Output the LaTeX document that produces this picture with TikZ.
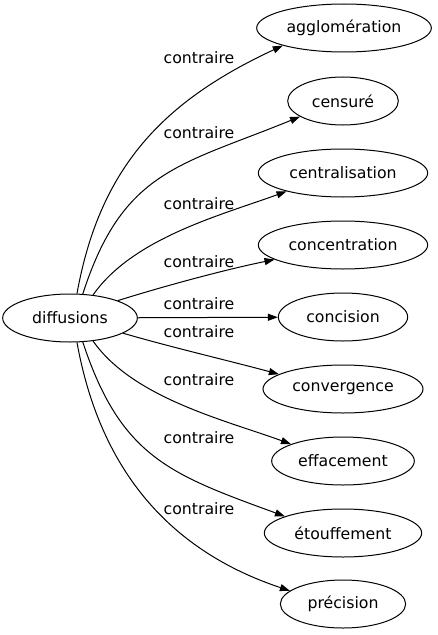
\documentclass[tikz,border=0pt]{standalone}
\usepackage{fontspec}
\setmainfont{DejaVu Sans}
\usetikzlibrary{arrows.meta,shapes.geometric}

\begin{document}
\begin{tikzpicture}[x=0.75pt,y=-0.75pt,
  word/.style={ellipse,draw,line width=0.75pt,inner xsep=0pt,inner ysep=2pt,
    minimum height=36pt,minimum width=#1,font=\fontsize{11.8}{14}\selectfont},
  rel/.style={-{Triangle[length=7.5pt,width=5.3pt]},line width=0.75pt},
  lab/.style={font=\fontsize{11.8}{14}\selectfont,inner sep=0pt}]
\useasboundingbox (0,0) rectangle (437,635);
\node[word=101pt] (diff) at (70,318) {diffusions};
\node[word=131pt] (aggl) at (344,28)  {agglomération};
\node[word=83pt]  (cens) at (343,101) {censuré};
\node[word=127pt] (cent) at (343,173) {centralisation};
\node[word=127pt] (conc) at (343,245) {concentration};
\node[word=97pt]  (cisi) at (343,317) {concision};
\node[word=120pt] (conv) at (343,389) {convergence};
\node[word=107pt] (effa) at (343,461) {effacement};
\node[word=118pt] (etou) at (343,533) {étouffement};
\node[word=94pt]  (prec) at (343,604) {précision};
% upper arcs
\draw[rel] (diff.74) .. controls +(23,-128) and +(-118,55) .. (aggl.196);
\draw[rel] (diff.62) .. controls +(40,-124) and +(-120,49) .. (cens.200);
\draw[rel] (diff.45) .. controls +(40,-57) and +(-66,24) .. (cent.198);
\draw[rel] (diff.20) .. controls +(48,-15) and +(-49,10) .. (conc.192);
\draw[rel] (diff) -- (cisi);
% lower arcs
\draw[rel] (diff.-16) .. controls +(48,14) and +(-48,-13) .. (conv.167);
\draw[rel] (diff.-45) .. controls +(40,57) and +(-66,-24) .. (effa.162);
\draw[rel] (diff.-62) .. controls +(38,115) and +(-115,-42) .. (etou.164);
\draw[rel] (diff.-74) .. controls +(23,128) and +(-120,-40) .. (prec.166);
\node[lab] (l1) at (199,58)  {contraire};
\node[lab] (l2) at (199,133) {contraire};
\node[lab] (l3) at (199,204) {contraire};
\node[lab] (l4) at (199,262) {contraire};
\node[lab] (l5) at (199,304) {contraire};
\node[lab] (l6) at (199,332) {contraire};
\node[lab] (l7) at (199,380) {contraire};
\node[lab] (l8) at (199,438) {contraire};
\node[lab] (l9) at (199,509) {contraire};
\end{tikzpicture}
\end{document}
